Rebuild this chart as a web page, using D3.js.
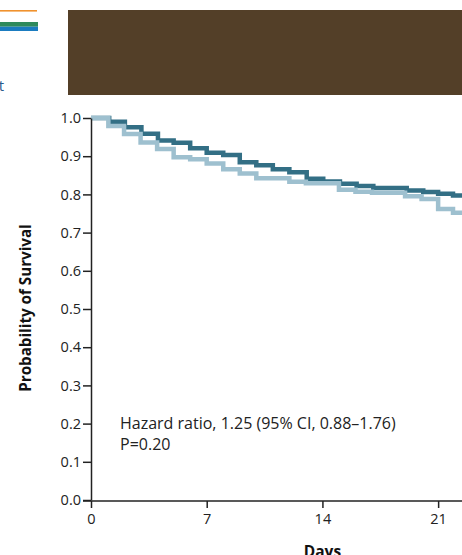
<!DOCTYPE html>
<html>
<head>
<meta charset="utf-8">
<script src="https://cdn.jsdelivr.net/npm/d3@7"></script>
<style>
  html, body { margin: 0; padding: 0; background: #fff; overflow: hidden; }
  svg { display: block; font-family: "Open Sans", "Noto Sans", sans-serif; }
</style>
</head>
<body>
<div id="chart"></div>
<script>
// Kaplan-Meier steps (day, survival)
const darkDays = [0, 1.1, 2.05, 3.05, 4.05, 5.0, 6.0, 7.0, 8.0, 9.0, 10.0, 11.0, 12.0, 13.05, 14.05, 15.06, 16.07, 17.08, 19.1, 20.1, 21.0, 21.9, 23];
const darkSurv = [1.0, 0.990, 0.976, 0.959, 0.941, 0.935, 0.921, 0.909, 0.903, 0.884, 0.876, 0.866, 0.858, 0.841, 0.834, 0.828, 0.822, 0.817, 0.810, 0.806, 0.802, 0.797, 0.797];
const lightDays = [0, 1.05, 2.0, 3.0, 4.0, 5.0, 6.0, 7.0, 8.0, 9.0, 10.0, 12.0, 13.0, 15.0, 16.0, 17.0, 19.0, 20.0, 21.0, 21.9, 23];
const lightSurv = [1.0, 0.979, 0.958, 0.936, 0.919, 0.897, 0.892, 0.881, 0.866, 0.855, 0.842, 0.833, 0.829, 0.812, 0.807, 0.804, 0.795, 0.788, 0.762, 0.752, 0.752];

const xTicks = [0, 7, 14, 21];
const yTicks = [0, 0.1, 0.2, 0.3, 0.4, 0.5, 0.6, 0.7, 0.8, 0.9, 1.0];
const hazardText = "Hazard ratio, 1.25 (95% CI, 0.88\u20131.76)";
const pText = "P=0.20";

const W = 462, H = 555;
const MARGIN = {left: 91, top: 118, bottom: 55};

const svg = d3.select('#chart').append('svg')
  .attr('width', W)
  .attr('height', H);

// header pieces that show above the chart
svg.append('rect').attr('x', 0).attr('y', 10).attr('width', 37).attr('height', 1.6).attr('fill', '#f0922e');
svg.append('rect').attr('x', 0).attr('y', 22).attr('width', 38).attr('height', 4.7).attr('fill', '#2f8a5c');
svg.append('rect').attr('x', 0).attr('y', 26.7).attr('width', 38).attr('height', 4.3).attr('fill', '#1b7cc0');
svg.append('text').attr('x', 4).attr('y', 91).attr('text-anchor', 'end')
  .attr('font-size', 15).attr('fill', '#2a5a8c').text('t');
svg.append('rect').attr('x', 68).attr('y', 10).attr('width', 394).attr('height', 85).attr('fill', '#533f28');

// scales
const xScale = d3.scaleLinear().domain([0, 28]).range([MARGIN.left, MARGIN.left + 28 * 16.53]);
const yScale = d3.scaleLinear().domain([0, 1]).range([H - MARGIN.bottom, MARGIN.top]);

// curves
const line = d3.line()
  .x(d => xScale(d[0]))
  .y(d => yScale(d[1]))
  .curve(d3.curveStepAfter);

const darkData = darkDays.map((d, i) => [d, darkSurv[i]]);
const lightData = lightDays.map((d, i) => [d, lightSurv[i]]);

svg.append('path').datum(darkData)
  .attr('d', line)
  .attr('fill', 'none')
  .attr('stroke', '#336f85')
  .attr('stroke-width', 4.5);

svg.append('path').datum(lightData)
  .attr('d', line)
  .attr('fill', 'none')
  .attr('stroke', '#9ec0cf')
  .attr('stroke-width', 4.5);

// axes
const yAxisG = svg.append('g')
  .attr('transform', `translate(${MARGIN.left},0)`)
  .call(d3.axisLeft(yScale).tickValues(yTicks).tickFormat(d3.format('.1f')).tickSize(8).tickSizeOuter(0).tickPadding(2));

const xAxisG = svg.append('g')
  .attr('transform', `translate(0,${H - MARGIN.bottom + 1})`)
  .call(d3.axisBottom(xScale).tickValues(xTicks).tickSize(7).tickSizeOuter(0).tickPadding(6));

[yAxisG, xAxisG].forEach(g => {
  g.selectAll('path, line').attr('stroke', '#222').attr('stroke-width', 1.5);
  g.selectAll('text').attr('font-size', 14.5).attr('fill', '#222').attr('font-family', '"Open Sans", sans-serif');
});
xAxisG.select('.domain').attr('d', `M${MARGIN.left - 8},0H${W}`);

// axis titles
svg.append('text')
  .attr('transform', `translate(31,${(MARGIN.top + H - MARGIN.bottom) / 2 - 1}) rotate(-90)`)
  .attr('text-anchor', 'middle')
  .attr('font-size', 15.2)
  .attr('font-weight', 'bold')
  .attr('fill', '#111')
  .text('Probability of Survival');

svg.append('text')
  .attr('x', xScale(14))
  .attr('y', 557)
  .attr('text-anchor', 'middle')
  .attr('font-size', 15.5)
  .attr('font-weight', 'bold')
  .attr('fill', '#111')
  .text('Days');

// annotation
svg.append('text').attr('x', 120).attr('y', 429)
  .attr('font-size', 16).attr('fill', '#222').text(hazardText);
svg.append('text').attr('x', 120).attr('y', 450)
  .attr('font-size', 16).attr('fill', '#222').text(pText);
</script>
</body>
</html>
